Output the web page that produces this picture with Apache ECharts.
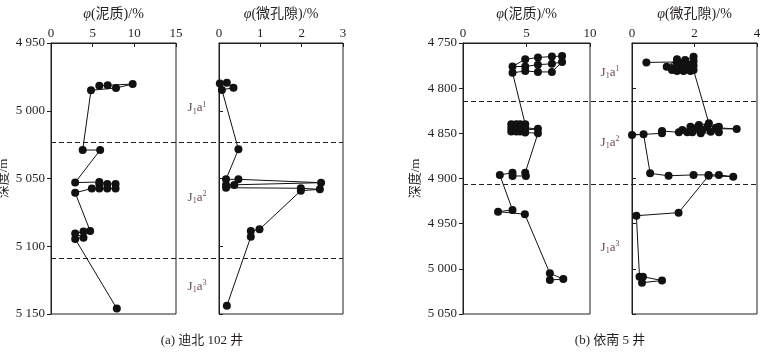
<!DOCTYPE html>
<html>
<head>
<meta charset="utf-8">
<script src="https://cdn.jsdelivr.net/npm/echarts@6/dist/echarts.min.js"></script>
<style>html,body{margin:0;background:#fff}#chart{width:766px;height:354px}</style>
</head>
<body>
<div id="chart"></div>
<script>
// [porosity %, depth m], in the order the points are joined
const mudA = [[5.8,4981.5],[6.8,4981.2],[9.8,4980.3],[7.8,4983.2],[4.8,4984.9],
  [3.8,5029],[5.9,5029],
  [2.9,5053],[5.8,5052.6],[5.8,5054],[6.75,5054],[7.75,5054],[7.75,5057.4],[6.75,5057.4],[5.8,5057.4],[4.9,5057.4],[2.9,5060.5],
  [4.7,5088.7],[3.9,5089.2],[2.9,5090.5],[3.9,5093.7],[2.9,5094.6],
  [7.9,5146]];
const microA = [[0.02,4979.8],[0.19,4979.3],[0.35,4983],[0.07,4984.6],
  [0.47,5028.5],[0.17,5050.6],[0.47,5050.6],[2.47,5053.1],[0.17,5054.8],[0.37,5054.8],[0.17,5056.8],
  [1.98,5057.2],[2.44,5058],[1.98,5059],
  [0.98,5087.5],[0.77,5088.8],[0.77,5093],[0.19,5143.9]];
const mudB = [[7.8,4764.5],[7,4765],[5.9,4766],[4.9,4768],
  [3.9,4776],[4.9,4776],[5.9,4774],[7,4773],[7.8,4771],
  [7,4782],[5.9,4782],[4.9,4781],[3.9,4783],
  [4.9,4840],[4.5,4840],[4.2,4840],[3.8,4840],
  [3.8,4844],[4.2,4844],[4.5,4844],[4.9,4844],[5.9,4845],
  [3.8,4848],[4.2,4848],[4.5,4848],[4.9,4849],[5.9,4850],
  [4.9,4893.6],[4.95,4897.2],[3.9,4897.2],[3.9,4893.6],[2.9,4896.1],
  [3.9,4934.9],[2.76,4936.7],[4.87,4939.6],
  [6.84,5005],[7.9,5011.3],[6.84,5012.4]];
const microB = [[0.46,4771.5],[1.44,4771],[1.11,4776.2],[1.44,4768],[1.7,4768.8],[1.97,4765.2],[1.97,4770],
  [1.5,4772.5],[1.77,4773.6],[1.97,4775],[1.6,4777.3],[1.33,4778],[1.85,4778],[1.28,4780],
  [1.44,4781],[1.65,4781],[1.87,4781],[1.97,4780],
  [2.46,4838.9],[2.14,4840.8],[1.87,4842.6],[2.41,4842.6],[2.78,4842.6],[2.68,4843.7],[3.35,4845.2],
  [2.04,4844.5],[1.61,4846.3],[2.25,4846.3],[2.52,4848.2],[2.78,4848.9],[2.2,4850],[1.93,4848.9],
  [1.77,4848.9],[1.5,4848.9],[0.96,4847.4],[0.96,4850],[0,4851.8],[0.37,4851],
  [0.58,4894.3],[1.17,4897],[1.97,4896],[2.45,4896],[2.78,4896],[3.24,4898],[2.45,4897],
  [1.49,4937.8],[0.14,4941.2],[0.24,5008.7],[0.35,5008.7],[0.96,5013],[0.32,5015.3]];

const depthRangeA = [4950, 5150];
const depthRangeB = [4750, 5050];
const boundariesA = [5023, 5109];
const boundariesB = [4814, 4906];
const zoneNames = ['1', '2', '3'];
const zoneDepthsA = [4998, 5064, 5130];
const zoneDepthsB = [4783, 4860, 4976];
const xTitles = ['{i|φ}(泥质)/%', '{i|φ}(微孔隙)/%', '{i|φ}(泥质)/%', '{i|φ}(微孔隙)/%'];
const xMax = [15, 3, 10, 4];
const xStep = [5, 1, 5, 2];
const captions = ['(a) 迪北 102 井', '(b) 依南 5 井'];

const font = '"Liberation Serif", "Times New Roman", "Noto Sans CJK SC", serif';
const ink = '#231f20';

const chart = echarts.init(document.getElementById('chart'), null, {renderer: 'canvas'});

const grids = [
  {left: 51, top: 43, width: 125, height: 271},
  {left: 219, top: 43, width: 124, height: 271},
  {left: 463, top: 43, width: 127, height: 271},
  {left: 632, top: 43, width: 125, height: 271}
].map(g => Object.assign(g, {show: true, borderColor: ink, borderWidth: 1}));
grids.push({left: 51, top: 43, width: 292, height: 271});
grids.push({left: 463, top: 43, width: 294, height: 271});
grids.forEach(g => { g.containLabel = false; g.outerBoundsMode = 'none'; });

const xAxes = xMax.map((m, i) => ({
  gridIndex: i, type: 'value', position: 'top', min: 0, max: m, interval: xStep[i],
  name: xTitles[i], nameLocation: 'middle', nameGap: 22,
  nameTextStyle: {fontFamily: font, fontSize: 14, color: ink, rich: {i: {fontStyle: 'italic', fontFamily: font, fontSize: 14, color: ink}}},
  axisLine: {lineStyle: {color: ink}},
  axisTick: {inside: true, length: 4, lineStyle: {color: ink}},
  axisLabel: {margin: 3, fontFamily: font, fontSize: 13, color: ink},
  splitLine: {show: false}
}));
xAxes.push({gridIndex: 4, type: 'value', min: 0, max: 1, show: false});
xAxes.push({gridIndex: 5, type: 'value', min: 0, max: 1, show: false});

function depthAxis(i, range, labelled) {
  return {
    gridIndex: i, type: 'value', inverse: true, min: range[0], max: range[1], interval: 50,
    name: labelled ? '深度/m' : '', nameLocation: 'middle', nameGap: 41,
    nameTextStyle: {fontFamily: font, fontSize: 13, color: ink},
    axisLine: {lineStyle: {color: ink}},
    axisTick: {inside: !labelled, length: 4, lineStyle: {color: ink}},
    axisLabel: {show: labelled, margin: 6, fontFamily: font, fontSize: 13, color: ink,
      formatter: v => String(v).replace(/(\d)(\d{3})$/, '$1 $2')},
    splitLine: {show: false}
  };
}
const yAxes = [
  depthAxis(0, depthRangeA, true), depthAxis(1, depthRangeA, false),
  depthAxis(2, depthRangeB, true), depthAxis(3, depthRangeB, false),
  {gridIndex: 4, type: 'value', inverse: true, min: depthRangeA[0], max: depthRangeA[1], show: false},
  {gridIndex: 5, type: 'value', inverse: true, min: depthRangeB[0], max: depthRangeB[1], show: false}
];

const profiles = [mudA, microA, mudB, microB].map((d, i) => ({
  type: 'line', xAxisIndex: i, yAxisIndex: i, data: d,
  symbol: 'circle', symbolSize: 8, showSymbol: true, silent: true, animation: false,
  itemStyle: {color: '#111'}, lineStyle: {color: '#111', width: 1}
}));

function zoneSeries(idx, depths, bounds) {
  return {
    type: 'scatter', xAxisIndex: idx, yAxisIndex: idx, silent: true, animation: false,
    symbolSize: 0,
    data: depths.map((d, i) => [0.5, d, zoneNames[i]]),
    label: {
      show: true, position: 'inside',
      formatter: p => '{t|J}{s|1}{t|a}{p|' + p.value[2] + '}',
      rich: {
        t: {fontFamily: font, fontSize: 13, color: '#3a1c1a'},
        s: {fontFamily: font, fontSize: 8, color: '#3a1c1a', padding: [7, 0, 0, 0]},
        p: {fontFamily: font, fontSize: 8, color: '#3a1c1a', padding: [0, 0, 7, 0]}
      }
    },
    markLine: {
      symbol: 'none', silent: true, animation: false, label: {show: false},
      lineStyle: {type: [5, 3], color: ink, width: 1.2},
      data: bounds.map(v => ({yAxis: v}))
    }
  };
}

const option = {
  animation: false,
  title: [
    {text: captions[0], left: 197, top: 329, textAlign: 'center'},
    {text: captions[1], left: 605, top: 329, textAlign: 'center'}
  ].map(t => Object.assign(t, {textStyle: {fontFamily: font, fontSize: 13, fontWeight: 'normal', color: ink}})),
  grid: grids,
  xAxis: xAxes,
  yAxis: yAxes,
  series: profiles.concat([zoneSeries(4, zoneDepthsA, boundariesA), zoneSeries(5, zoneDepthsB, boundariesB)])
};
chart.setOption(option);
</script>
</body>
</html>
